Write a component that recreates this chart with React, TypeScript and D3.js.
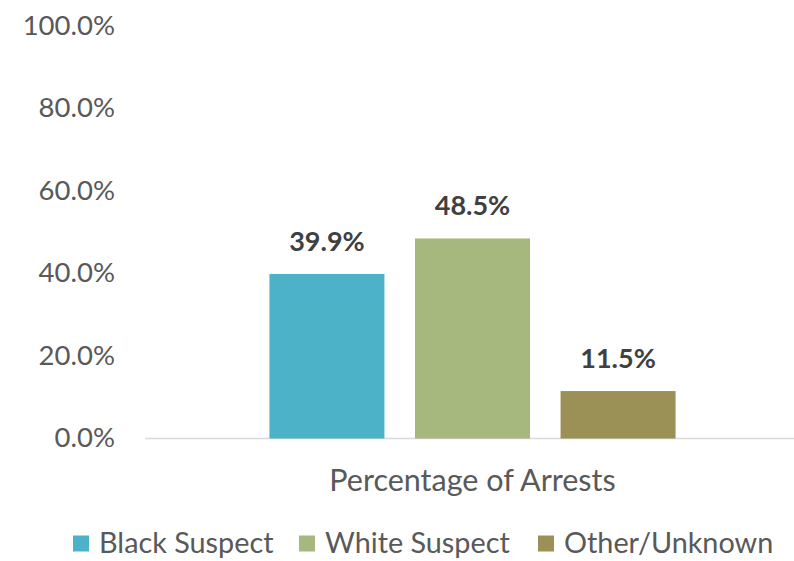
import React from "react";
import * as d3 from "d3";

const categories = ["Percentage of Arrests"];
const seriesNames = ["Black Suspect", "White Suspect", "Other/Unknown"];
const seriesValues = [39.9, 48.5, 11.5];
const seriesColors = ["#4bb2c7", "#a7b87e", "#9b9156"];
const yTicks = [0, 20, 40, 60, 80, 100];

const W = 794;
const H = 561;
const FONT = "Lato, 'Open Sans', sans-serif";

export default function App() {
  const y = d3.scaleLinear().domain([0, 100]).range([438.5, 26]);
  const x0 = d3.scaleBand<string>().domain(categories).range([148, 797]).paddingInner(0).paddingOuter(0.299);
  const x1 = d3
    .scaleBand<string>()
    .domain(seriesNames)
    .range([0, x0.bandwidth()])
    .paddingInner(0.21)
    .paddingOuter(0);
  const fmt = (v: number) => d3.format(".1f")(v) + "%";

  const legendX = [73, 299, 538];

  return (
    <svg width={W} height={H} style={{ position: "absolute", left: 0, top: 0, background: "#fff" }}>
      <rect x={0} y={0} width={W} height={H} fill="#fff" />
      {yTicks.map((t) => (
        <text
          key={t}
          x={115}
          y={y(t) + 2}
          textAnchor="end"
          dominantBaseline="middle"
          fontFamily={FONT}
          fontSize={27.5}
          fill="#595959"
        >
          {fmt(t)}
        </text>
      ))}
      <line x1={145} x2={794} y1={y(0)} y2={y(0)} stroke="#d9d9d9" strokeWidth={1.5} />
      {categories.map((c) => (
        <g key={c} transform={`translate(${x0(c)},0)`}>
          {seriesNames.map((s, i) => (
            <g key={s}>
              <rect
                x={x1(s)}
                y={y(seriesValues[i])}
                width={x1.bandwidth()}
                height={y(0) - y(seriesValues[i])}
                fill={seriesColors[i]}
              />
              <text
                x={(x1(s) as number) + x1.bandwidth() / 2}
                y={y(seriesValues[i]) - 30}
                textAnchor="middle"
                dominantBaseline="middle"
                fontFamily={FONT}
                fontWeight="bold"
                fontSize={27}
                fill="#404040"
              >
                {fmt(seriesValues[i])}
              </text>
            </g>
          ))}
          <text
            x={x0.bandwidth() / 2}
            y={483.5}
            textAnchor="middle"
            dominantBaseline="middle"
            fontFamily={FONT}
            fontSize={30.5}
            fill="#595959"
          >
            {c}
          </text>
        </g>
      ))}
      {seriesNames.map((s, i) => (
        <g key={s} transform={`translate(${legendX[i]},0)`}>
          <rect x={0} y={535.5} width={16} height={16} fill={seriesColors[i]} />
          <text
            x={26}
            y={545.5}
            dominantBaseline="middle"
            fontFamily={FONT}
            fontSize={28.8}
            fill="#595959"
          >
            {s}
          </text>
        </g>
      ))}
    </svg>
  );
}
